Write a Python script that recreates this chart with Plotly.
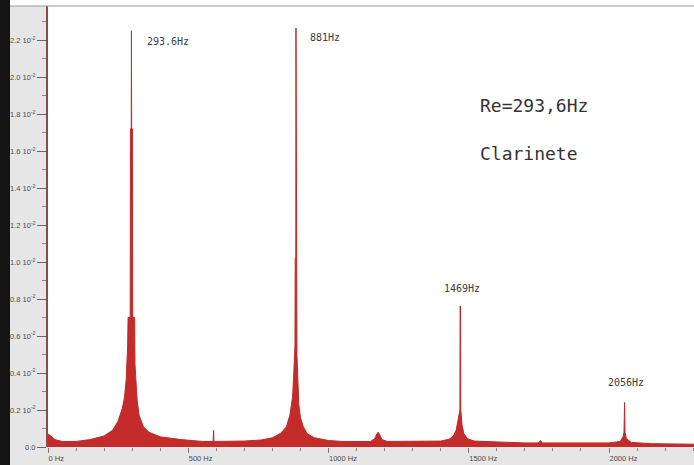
import plotly.graph_objects as go

# Spectrum envelope: frequency (Hz) and amplitude (units of 10^-2)
freq_hz = [
    0, 10, 25, 50, 100, 150, 200, 230, 250, 265, 273, 279, 284, 285.5, 293, 294,
    296.8, 297.5, 298.2, 301, 302, 309, 310, 313, 318, 325, 340, 360, 400, 475,
    550, 588.5, 589.5, 590.5, 591.5, 650, 700, 760, 800, 830, 850, 862, 868, 872,
    876, 879, 880.5, 881.3, 883.4, 884, 884.6, 886.7, 887.5, 890, 894, 900, 910,
    925, 950, 1000, 1050, 1150, 1165, 1172, 1177, 1183, 1191, 1210, 1300, 1400,
    1430, 1445, 1455, 1461, 1464, 1468.5, 1469.3, 1470.7, 1471.5, 1476, 1482,
    1495, 1520, 1600, 1700, 1748, 1755, 1762, 1900, 2000, 2040, 2050, 2053.5,
    2054.5, 2055.5, 2057, 2062, 2080, 2150, 2307,
]
amplitude = [
    0.07, 0.06, 0.04, 0.03, 0.03, 0.04, 0.06, 0.09, 0.14, 0.21, 0.27, 0.37, 0.55,
    0.70, 0.70, 1.72, 1.72, 2.25, 1.72, 1.72, 0.70, 0.70, 0.45, 0.37, 0.25, 0.17,
    0.11, 0.08, 0.055, 0.04, 0.03, 0.03, 0.09, 0.09, 0.03, 0.03, 0.032, 0.038,
    0.05, 0.075, 0.11, 0.17, 0.22, 0.27, 0.39, 0.50, 0.55, 1.02, 1.02, 2.265, 1.02,
    1.02, 0.50, 0.36, 0.23, 0.16, 0.11, 0.07, 0.05, 0.035, 0.03, 0.03, 0.045,
    0.07, 0.08, 0.065, 0.04, 0.03, 0.03, 0.032, 0.042, 0.06, 0.09, 0.14, 0.18,
    0.20, 0.762, 0.762, 0.20, 0.12, 0.075, 0.045, 0.032, 0.027, 0.022, 0.022, 0.035,
    0.022, 0.02, 0.022, 0.03, 0.055, 0.08, 0.24, 0.24, 0.08, 0.045, 0.025, 0.018,
    0.015,
]

# Peak labels
peak_labels = ["293.6Hz", "881Hz", "1469Hz", "2056Hz"]
peak_label_x = [346, 928, 1404, 1989]
peak_label_y = [2.19, 2.215, 0.855, 0.35]

# Axis ticks
y_tick_vals = [0.0, 0.2, 0.4, 0.6, 0.8, 1.0, 1.2, 1.4, 1.6, 1.8, 2.0, 2.2]
y_tick_text = ["0.0"] + [f"{v:.1f} 10<sup>-2</sup>" for v in y_tick_vals[1:]]
x_tick_vals = [0, 500, 1000, 1500, 2000]
x_tick_text = ["0 Hz", "500 Hz", "1000 Hz", "1500 Hz", "2000 Hz"]

W, H = 694, 465
ML, MR, MT, MB = 48, 0, 6, 18
PW, PH = W - ML - MR, H - MT - MB

fig = go.Figure()
fig.add_trace(go.Scatter(
    x=freq_hz, y=amplitude, mode="lines", fill="tozeroy",
    line=dict(color="#bf2a2a", width=1), fillcolor="#c42b2b",
    hoverinfo="skip", showlegend=False,
))

for t, xv, yv in zip(peak_labels, peak_label_x, peak_label_y):
    fig.add_annotation(x=xv, y=yv, text=t, showarrow=False, xanchor="left",
                       yanchor="middle",
                       font=dict(family="DejaVu Sans Mono", size=10, color="#3c3c3c"))

fig.add_annotation(xref="paper", yref="paper", x=(478 - ML) / PW, y=(447 - 105) / PH,
                   text="Re=293,6Hz", showarrow=False, xanchor="left", yanchor="middle",
                   font=dict(family="DejaVu Sans Mono", size=18, color="#333333"))
fig.add_annotation(xref="paper", yref="paper", x=(478 - ML) / PW, y=(447 - 153) / PH,
                   text="Clarinete", showarrow=False, xanchor="left", yanchor="middle",
                   font=dict(family="DejaVu Sans Mono", size=18, color="#333333"))

shapes = [
    # white strip above the plot
    dict(type="rect", xref="paper", yref="paper", x0=-ML / PW, x1=1.0,
         y0=1.0, y1=1.0 + MT / PH + 0.01, fillcolor="white", line_width=0, layer="below"),
    # dark strip at the far left
    dict(type="rect", xref="paper", yref="paper", x0=-ML / PW - 0.01, x1=-(ML - 10) / PW,
         y0=-MB / PH - 0.01, y1=1.0 + MT / PH + 0.01, fillcolor="#141414", line_width=0,
         layer="below"),
    # thin gray border at top
    dict(type="line", xref="paper", yref="paper", x0=-(ML - 10) / PW, x1=1.0,
         y0=1.0, y1=1.0, line=dict(color="#9a9a9a", width=1)),
]
fig.update_layout(shapes=shapes)

fig.update_layout(
    width=W, height=H,
    margin=dict(l=ML, r=MR, t=MT, b=MB, pad=0, autoexpand=False),
    paper_bgcolor="#e6e6e6", plot_bgcolor="white",
    xaxis=dict(range=[0, 2303], tickvals=x_tick_vals, ticktext=x_tick_text,
               ticks="outside", ticklen=5, tickcolor="#777777", tickwidth=1,
               ticklabelposition="outside right", automargin=False,
               ticklabelstandoff=4,
               minor=dict(dtick=100, tick0=0, ticks="outside", ticklen=3,
                          tickcolor="#888888"),
               showgrid=False, zeroline=False, showline=False,
               tickfont=dict(family="Liberation Sans", size=7.5, color="#4a4a4a"),
               fixedrange=True),
    yaxis=dict(range=[0, 2.384], tickvals=y_tick_vals, ticktext=y_tick_text,
               ticks="outside", ticklen=9, tickcolor="#666666", tickwidth=1,
               automargin=False,
               minor=dict(dtick=0.1, tick0=0, ticks="outside", ticklen=4,
                          tickcolor="#888888"),
               showgrid=False, zeroline=False, showline=True,
               linecolor="#8e4a4a", linewidth=2,
               tickfont=dict(family="Liberation Sans", size=7.5, color="#4a4a4a"),
               fixedrange=True),
)

fig.write_html(
    "out.html",
    config={"displayModeBar": False},
    post_script="document.body.style.margin='0';document.body.style.overflow='hidden';",
)
